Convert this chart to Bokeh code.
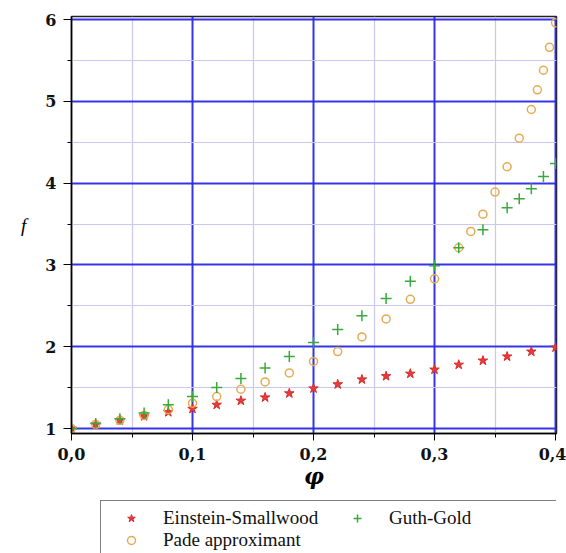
from bokeh.plotting import figure
from bokeh.layouts import column
from bokeh.models import FixedTicker, Legend, LegendItem, Range1d
from bokeh.embed import file_html
from bokeh.resources import INLINE

# Volume fraction phi and the three reinforcement-factor models f(phi)
phi_es = [0.0, 0.02, 0.04, 0.06, 0.08, 0.10, 0.12, 0.14, 0.16, 0.18, 0.20,
          0.22, 0.24, 0.26, 0.28, 0.30, 0.32, 0.34, 0.36, 0.38, 0.40]
f_es = [1.00, 1.05, 1.10, 1.15, 1.20, 1.24, 1.29, 1.34, 1.38, 1.43, 1.49,
        1.54, 1.60, 1.64, 1.67, 1.72, 1.78, 1.83, 1.88, 1.94, 1.99]

phi_gg = [0.0, 0.02, 0.04, 0.06, 0.08, 0.10, 0.12, 0.14, 0.16, 0.18, 0.20,
          0.22, 0.24, 0.26, 0.28, 0.30, 0.32, 0.34, 0.36, 0.37, 0.38, 0.39, 0.40]
f_gg = [1.00, 1.06, 1.12, 1.19, 1.29, 1.39, 1.50, 1.61, 1.74, 1.88, 2.05,
        2.21, 2.38, 2.59, 2.80, 2.99, 3.21, 3.43, 3.70, 3.81, 3.93, 4.08, 4.24]

phi_pade = [0.0, 0.02, 0.04, 0.06, 0.08, 0.10, 0.12, 0.14, 0.16, 0.18, 0.20,
            0.22, 0.24, 0.26, 0.28, 0.30, 0.32, 0.33, 0.34, 0.35, 0.36, 0.37,
            0.38, 0.385, 0.39, 0.395, 0.40]
f_pade = [1.00, 1.05, 1.10, 1.16, 1.23, 1.31, 1.39, 1.48, 1.57, 1.68, 1.82,
          1.94, 2.12, 2.34, 2.58, 2.83, 3.21, 3.41, 3.62, 3.89, 4.20, 4.55,
          4.90, 5.14, 5.38, 5.66, 5.96]

series_names = ["Einstein-Smallwood", "Guth-Gold", "Pade approximant"]

x_ticks = [0.0, 0.1, 0.2, 0.3, 0.4]
x_tick_labels = ["0,0", "0,1", "0,2", "0,3", "0,4"]
x_minor = [0.05, 0.15, 0.25, 0.35]
y_ticks = [1, 2, 3, 4, 5, 6]
y_minor = [1.5, 2.5, 3.5, 4.5, 5.5]

SERIF = "Liberation Serif"
TICK_FONT = "DejaVu Serif"

# marker styles shared by the chart and the legend strip
STYLE_ES = dict(marker="star", size=10, fill_color="#e53b3b",
                line_color="#d92c2c", line_width=1)
STYLE_PADE = dict(marker="circle", size=8, fill_color=None,
                  line_color="#e8aa50", line_width=1.5)
STYLE_GG = dict(marker="cross", size=11, line_color="#3aa83a", line_width=1.5)

p = figure(width=566, height=500, output_backend="svg", toolbar_location=None,
           x_range=Range1d(0.0, 0.4008), y_range=Range1d(0.939, 6.037),
           min_border_left=71, min_border_right=10, min_border_top=16,
           min_border_bottom=67)
p.background_fill_color = "white"
p.border_fill_color = "white"
p.outline_line_color = "#222222"
p.outline_line_width = 1.5

# axes and ticks
p.xaxis.ticker = FixedTicker(ticks=x_ticks, minor_ticks=x_minor)
p.yaxis.ticker = FixedTicker(ticks=y_ticks, minor_ticks=y_minor)
p.xaxis.major_label_overrides = dict(zip(x_ticks, x_tick_labels))

for ax in (p.xaxis[0], p.yaxis[0]):
    ax.axis_line_color = "black"
    ax.axis_line_width = 1.5
    ax.major_tick_line_color = "black"
    ax.minor_tick_line_color = "black"
    ax.major_tick_in = 0
    ax.minor_tick_in = 0
    ax.major_label_text_font = TICK_FONT
    ax.major_label_text_font_style = "bold"
    ax.major_label_text_font_size = "16px"
    ax.major_label_text_color = "#111111"

p.xaxis.major_tick_out = 7
p.xaxis.minor_tick_out = 4
p.xaxis.major_label_standoff = 7
p.yaxis.major_tick_out = 8
p.yaxis.minor_tick_out = 4
p.yaxis.major_label_standoff = 7

p.xaxis.axis_label = "φ"
p.xaxis.axis_label_text_font = TICK_FONT
p.xaxis.axis_label_text_font_style = "bold italic"
p.xaxis.axis_label_text_font_size = "22px"
p.xaxis.axis_label_standoff = 0
p.xaxis.axis_label_text_color = "black"

p.yaxis.axis_label = "f"
p.yaxis.axis_label_orientation = "horizontal"
p.yaxis.axis_label_text_font = SERIF
p.yaxis.axis_label_text_font_style = "italic"
p.yaxis.axis_label_text_font_size = "19px"
p.yaxis.axis_label_standoff = 16
p.yaxis.axis_label_text_color = "black"

# grid: strong blue majors, pale lavender minors
for g in (p.xgrid[0], p.ygrid[0]):
    g.grid_line_color = "#2a2ae6"
    g.grid_line_width = 2
    g.grid_line_alpha = 0.95
    g.minor_grid_line_color = "#c9c9f0"
    g.minor_grid_line_width = 1.2

# the three series
p.scatter(phi_es, f_es, **STYLE_ES)
p.scatter(phi_pade, f_pade, **STYLE_PADE)
p.scatter(phi_gg, f_gg, **STYLE_GG)

# legend strip under the chart (its frame lines up with the chart's frame)
leg = figure(width=566, height=53, output_backend="svg", toolbar_location=None,
             x_range=Range1d(0, 1), y_range=Range1d(0, 1),
             min_border=0, x_axis_type=None, y_axis_type=None)
leg.grid.visible = False
leg.outline_line_color = None
leg.background_fill_color = "white"
leg.border_fill_color = "white"
# one off-screen point each, so the legend has a marker to draw
k_es = leg.scatter([5], [5], **STYLE_ES)
k_gg = leg.scatter([5], [5], **STYLE_GG)
k_pade = leg.scatter([5], [5], **STYLE_PADE)

legend = Legend(
    items=[LegendItem(label=series_names[0], renderers=[k_es]),
           LegendItem(label=series_names[1], renderers=[k_gg]),
           LegendItem(label=series_names[2], renderers=[k_pade])],
    orientation="horizontal", ncols=2,
    location=(29, -5),
    label_text_font=SERIF, label_text_font_size="19px",
    label_text_color="#111111",
    glyph_width=48, glyph_height=20, label_height=20, label_width=170,
    label_standoff=8, spacing=0, padding=6, margin=0,
    border_line_color="black", border_line_width=1.2,
    background_fill_color="white", background_fill_alpha=1.0,
)
leg.add_layout(legend)

layout = column(p, leg, spacing=0)
open("out.html", "w").write(file_html(layout, INLINE))
